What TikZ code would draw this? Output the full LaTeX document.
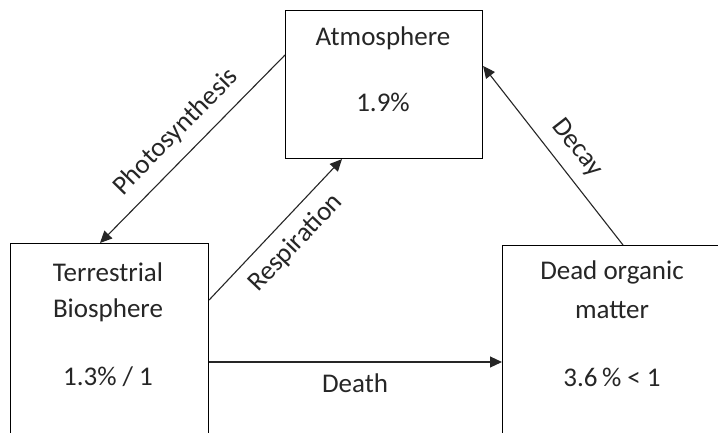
\documentclass[tikz,border=0pt]{standalone}
\usepackage{fontspec}
\setmainfont{Carlito}
\usetikzlibrary{arrows.meta}
\begin{document}
\begin{tikzpicture}[x=1pt,y=-1pt,
  box/.style={draw=black,line width=1.1pt,inner sep=0pt,anchor=north west},
  txt/.style={inner sep=0pt,font=\fontsize{27}{31}\selectfont,text=black!85},
  flow/.style={draw=black!85,line width=1.1pt,-{Triangle[length=12pt,width=11pt]}}]
\useasboundingbox (0,0) rectangle (718,432);
\clip (0,0) rectangle (718,432);
\fill[white] (0,0) rectangle (718,432);
% boxes
\node[box,minimum width=197pt,minimum height=148pt] (atm) at (285,10) {};
\node[box,minimum width=198pt,minimum height=220pt] (ter) at (10,243) {};
\node[box,minimum width=240pt,minimum height=220pt] (dead) at (502,245) {};
% box texts
\node[txt] (tatm1) at (383,38) {Atmosphere};
\node[txt] (tatm2) at (383,102) {1.9\%};
\node[txt] (tter1) at (108,272) {Terrestrial};
\node[txt] (tter2) at (108,310) {Biosphere};
\node[txt] (tter3) at (108,377) {1.3\% / 1};
\node[txt] (tdead1) at (612,272) {Dead organic};
\node[txt] (tdead2) at (612,310) {matter};
\node[txt] (tdead3) at (612,377) {3.6\,\% < 1};
% connectors
\coordinate (p1) at ([yshift=-45pt]atm.north west);
\coordinate (p2) at ([xshift=90pt]ter.north west);
\draw[flow] (p1) -- (p2);
\coordinate (r1) at ([yshift=-57pt]ter.north east);
\coordinate (r2) at ([xshift=57pt]atm.south west);
\draw[flow] (r1) -- (r2);
\coordinate (d1) at ([xshift=121pt]dead.north west);
\coordinate (d2) at ([yshift=-56pt]atm.north east);
\draw[flow] (d1) -- (d2);
\coordinate (e1) at ([yshift=-119pt]ter.north east);
\coordinate (e2) at ([yshift=-117pt]dead.north west);
\draw[flow] (e1) -- (e2);
% labels
\node[txt,rotate=45.5] (lphoto) at (176,132) {Photosynthesis};
\node[txt,rotate=46.5] (lresp) at (296,243) {Respiration};
\node[txt,rotate=-52] (ldecay) at (577,148) {Decay};
\node[txt] (ldeath) at (355,383) {Death};
\end{tikzpicture}
\end{document}
